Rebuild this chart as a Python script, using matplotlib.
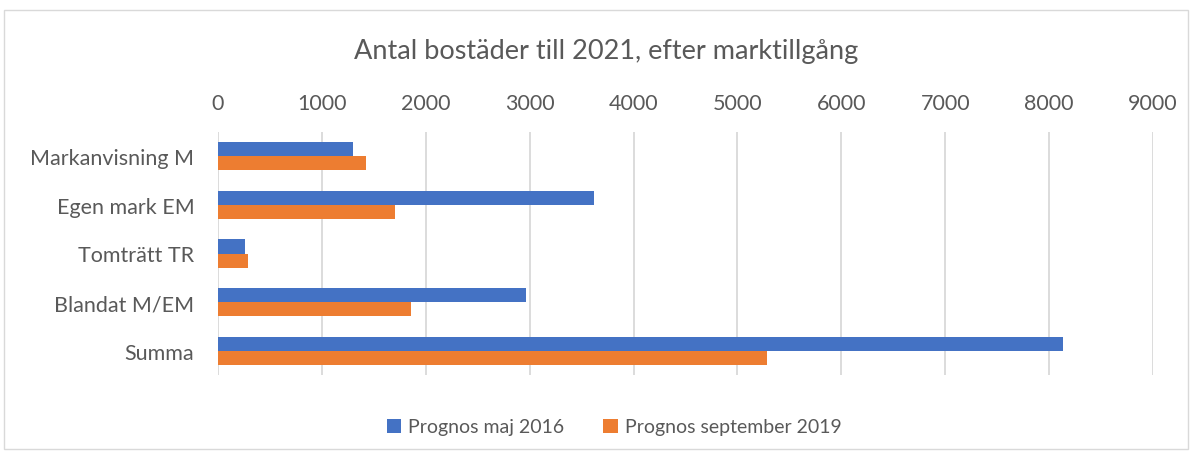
import matplotlib
matplotlib.use("Agg")
import matplotlib.pyplot as plt
from matplotlib.patches import Rectangle
import numpy as np

categories = ["Markanvisning M", "Egen mark EM", "Tomträtt TR", "Blandat M/EM", "Summa"]
series_names = ["Prognos maj 2016", "Prognos september 2019"]
maj_2016 = [1300, 3615, 260, 2960, 8135]
sep_2019 = [1425, 1700, 290, 1855, 5280]
x_ticks = [0, 1000, 2000, 3000, 4000, 5000, 6000, 7000, 8000, 9000]
title = "Antal bostäder till 2021, efter marktillgång"

plt.rcParams['font.family'] = ['Lato', 'DejaVu Sans']
text_color = "#595959"
blue = "#4472C4"
orange = "#ED7D31"
grid_color = "#D9D9D9"

fig = plt.figure(figsize=(11.92, 4.56), dpi=100)
fig.patches.append(Rectangle((4/1192, 6/456), 1184/1192, 439/456, transform=fig.transFigure,
                             fill=False, edgecolor=grid_color, linewidth=1))

ax = fig.add_axes([218/1192, 1 - 376/456, 935/1192, 243/456])
y = np.arange(len(categories))
h = 0.29
ax.barh(y - h/2, maj_2016, height=h, color=blue, label=series_names[0], zorder=3)
ax.barh(y + h/2, sep_2019, height=h, color=orange, label=series_names[1], zorder=3)

ax.set_xlim(0, 9000)
ax.set_ylim(len(categories) - 0.5, -0.5)
ax.set_yticks(y)
ax.set_yticklabels(categories, fontsize=15.5, color=text_color)
ax.set_xticks(x_ticks)
ax.set_xticklabels([str(t) for t in x_ticks], fontsize=15.5, color=text_color)
ax.xaxis.tick_top()
ax.tick_params(axis='both', length=0)
ax.tick_params(axis='x', pad=14)
ax.tick_params(axis='y', pad=17)
for s in ax.spines.values():
    s.set_visible(False)
ax.grid(axis='x', color=grid_color, linewidth=1.3, zorder=0)
ax.set_axisbelow(True)

fig.text(606/1192, 1 - 52/456, title, ha='center', va='center', fontsize=19.5, color=text_color)

handles, labels = ax.get_legend_handles_labels()
fig.legend(handles, labels, loc='center', bbox_to_anchor=(614/1192, 1 - 428/456), ncol=2,
           frameon=False, fontsize=14, labelcolor=text_color, handlelength=0.75, handleheight=0.75,
           columnspacing=2.0, handletextpad=0.35)

fig.savefig("out.png", dpi=100)
